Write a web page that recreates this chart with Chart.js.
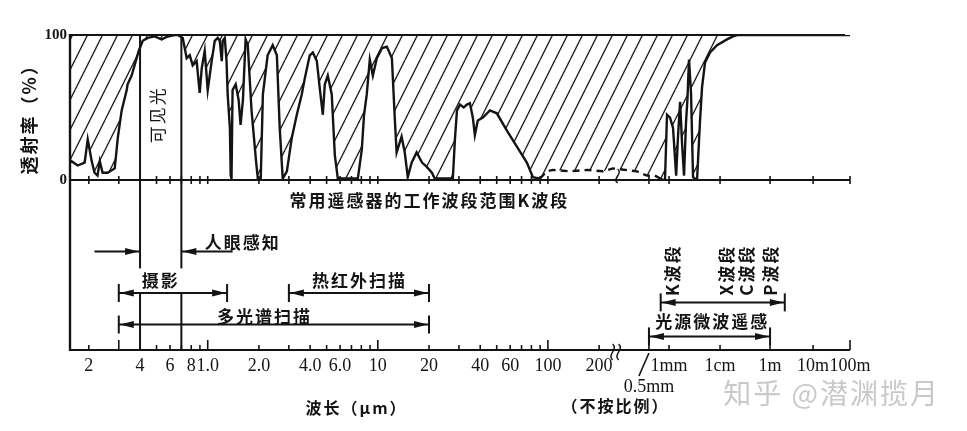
<!DOCTYPE html>
<html>
<head>
<meta charset="utf-8">
<script src="https://cdn.jsdelivr.net/npm/chart.js@4.4.1/dist/chart.umd.min.js"></script>
<style>
html,body{margin:0;background:#fff}
#wrap{width:967px;height:431px}
</style>
</head>
<body>
<div id="wrap"><canvas id="c" width="967" height="431"></canvas></div>
<script>
// transmission curve, wavelength in um
var waveUm = [0.155,0.158,0.172,0.189,0.197,0.208,0.216,0.225,0.232,0.241,0.258,0.284,0.296,0.312,0.334,0.338,0.357,0.382,0.393,
  0.415,0.444,0.488,0.536,0.582,0.64,0.667,0.713,0.752,0.784,0.816,0.861,0.897,0.922,0.96,1.0,1.055,1.10,1.145,1.177,1.21,1.225,
  1.26,1.29,1.31,1.35,1.365,1.38,1.40,1.46,1.52,1.56,1.61,1.67,1.72,1.81,1.92,1.97,2.05,2.11,2.25,2.41,2.55,2.65,2.76,2.92,
  3.12,3.34,3.57,3.72,3.98,4.15,4.38,4.56,4.75,4.88,5.08,5.36,5.59,5.82,7.63,8.05,8.3,8.61,8.97,9.35,9.87,10.6,11.3,12.1,12.6,
  12.9,13.8,14.4,15.0,15.8,16.9,18.2,19.4,20.8,21.6,27.6,28.4,29.2,30.4,32.0,33.4,34.8,36.2,37.2,38.7,41.5,45.6,50.1,57.4,65.7,
  75.2,81.6,89.7,98.6,107,135,170,211,241,361,473,615,813,870,933,1046,1198,1380,1500,1650,1800,1970,2155,2300,2380,2466,2700,
  2955,3541,4055,4438,5081,6365,8737,1.9e4,3.3e4,4.8e4,1e8];
var transPct = [12,13,10,12,28,13,5,3,13,5,5,8,29,48,62,66,72,84,89,
  96,98,99,97,99,100,100,98,84,86,79,82,60,77,89,62,82,96,98,96,82,96,
  98,82,59,36,3,1,62,66,55,38,55,97,93,48,14,1,1,59,86,93,86,36,1,6,
  29,45,59,70,86,88,82,63,45,66,72,59,17,1,1,21,45,59,83,72,84,91,92,84,41,
  19,30,19,2,12,19,12,9,5,1,1,28,48,52,50,52,53,43,31,41,43,48,46,34,23,
  12,2,1,6,7,6,7,6,8,6,3,3,0,0,45,43,36,3,30,54,25,3,40,56,70,83,60,
  2,0,41,64,81,88,93,97,99,100,100];
var dashFrom = 89, dashTo = 620;   // poorly measured stretch, drawn dashed

// axis ticks (um) and their labels
var tickUm = [0.2,0.3,0.4,0.5,0.6,0.7,0.8,0.9,1,2,3,4,5,6,7,8,9,10,20,30,40,50,60,70,80,90,100,200,500,1000,1e4,1e6,1e7,1e8];
var tickText = ['2','','4','','6','','8','','1.0','2.0','','4.0','','6.0','','','','10','20','','40','','60','','','','100','200',
  ['','0.5mm'],'1mm','1cm','1m','10m','100m'];
var tallTicks = [0.3,1,10,100,1e8];

// axis is log up to the break, then "not to scale"
var breakUm = [250,260,500,1e3,1e4,1e6,1e7,1e8];
var breakAt = [2.398,2.453,2.594,2.712,3.012,3.306,3.559,3.776];

// sensor bands
var bandText = ['摄影','热红外扫描','多光谱扫描','','光源微波遥感'];
var bandFrom = [0.3,3,0.3,750,500];
var bandTo = [1.3,20,20,2.2e6,1e6];
var bandRow = [6.65,6.65,8.5,7.2,9.2];
var bandTextAt = [0.53,7.8,2.16,null,7000];
var bandTextRow = [5.9,5.9,8.05,null,8.35];

var mwText = ['K波段','X波段','C波段','P波段'];
var mwAt = [1150,1.9e4,1.2e5,1e6];

var eyeFrom = [0.216,1.4], eyeTo = [0.4,0.7], eyeRow = 4.2;
var visible = [0.4,0.7];

var ink = '#141414';
var cjk = '"Noto Sans CJK SC"';

function axisPos(um) {
  if (um <= breakUm[0]) return Math.log10(um);
  for (var i = 1; i < breakUm.length; i++) {
    if (um <= breakUm[i] || i == breakUm.length - 1) {
      var l0 = Math.log10(breakUm[i-1]), l1 = Math.log10(breakUm[i]);
      return breakAt[i-1] + (breakAt[i] - breakAt[i-1]) * (Math.log10(um) - l0) / (l1 - l0);
    }
  }
}

class WaveScale extends Chart.LinearScale {
  determineDataLimits() { this.min = this.options.min; this.max = this.options.max; }
  buildTicks() { return tickUm.map(function(v){ return {value: v}; }); }
  getPixelForValue(v) {
    var u0 = axisPos(this.min), u1 = axisPos(this.max);
    return this.getPixelForDecimal((axisPos(v) - u0) / (u1 - u0));
  }
}
WaveScale.id = 'wave';
WaveScale.defaults = Chart.LinearScale.defaults;
Chart.register(WaveScale);

function hatch() {
  var c = document.createElement('canvas');
  c.width = 15; c.height = 30;
  var g = c.getContext('2d');
  g.strokeStyle = '#1e1e1e'; g.lineWidth = 1.3;
  [-15,0,15].forEach(function(dx){
    g.beginPath(); g.moveTo(dx, 30); g.lineTo(dx + 15, 0); g.stroke();
  });
  return g.createPattern(c, 'repeat');
}

var datasets = [{
  data: waveUm.map(function(w, i){ return {x: w, y: transPct[i]}; }),
  yAxisID: 'yT',
  borderColor: ink,
  borderWidth: 2.4,
  pointRadius: 0,
  tension: 0,
  fill: 'end',
  backgroundColor: hatch(),
  segment: {
    borderDash: function(c){ return (c.p0.parsed.x >= dashFrom && c.p1.parsed.x <= dashTo) ? [7,5] : undefined; }
  }
}];
for (let i = 0; i < bandFrom.length; i++) {
  datasets.push({data: [{x: bandFrom[i], y: bandRow[i]}, {x: bandTo[i], y: bandRow[i]}], yAxisID: 'yB',
    borderColor: ink, borderWidth: 2, pointRadius: 0, fill: false});
}
for (let i = 0; i < eyeFrom.length; i++) {
  datasets.push({data: [{x: eyeFrom[i], y: eyeRow}, {x: eyeTo[i], y: eyeRow}], yAxisID: 'yB',
    borderColor: ink, borderWidth: 2, pointRadius: 0, fill: false});
}

function line(ctx, x1, y1, x2, y2, w) {
  ctx.lineWidth = w || 2;
  ctx.beginPath(); ctx.moveTo(x1, y1); ctx.lineTo(x2, y2); ctx.stroke();
}
function head(ctx, tip, y, dir) {
  ctx.beginPath(); ctx.moveTo(tip, y);
  ctx.lineTo(tip - dir * 14, y - 3.5); ctx.lineTo(tip - dir * 14, y + 3.5);
  ctx.closePath(); ctx.fill();
}
function txt(ctx, s, x, y, font, align, rot) {
  ctx.save();
  ctx.font = font; ctx.textAlign = align || 'center'; ctx.textBaseline = 'middle';
  ctx.translate(x, y);
  if (rot) ctx.rotate(rot);
  ctx.fillText(s, 0, 0);
  ctx.restore();
}
function squiggle(ctx, x, y, h) {
  ctx.lineWidth = 1.5;
  ctx.beginPath(); ctx.moveTo(x, y - h);
  ctx.bezierCurveTo(x + 6, y - h / 3, x - 6, y + h / 3, x, y + h);
  ctx.stroke();
}

var deco = {
  id: 'deco',
  afterDatasetsDraw: function(chart) {
    var ctx = chart.ctx, a = chart.chartArea, x = chart.scales.x, yT = chart.scales.yT, yB = chart.scales.yB;
    var y0 = yT.getPixelForValue(0), yTop = yT.getPixelForValue(100);
    ctx.save();
    ctx.strokeStyle = ink; ctx.fillStyle = ink;
    try { ctx.letterSpacing = '2px'; } catch (e) {}

    // frame
    line(ctx, a.left, yTop, a.right - 5, yTop, 2);
    line(ctx, a.left, y0, a.right, y0, 2);
    line(ctx, a.left, a.bottom, a.right, a.bottom, 2);
    line(ctx, a.left, yTop - 1, a.left, a.bottom + 1, 2.4);

    // ticks
    tickUm.forEach(function(v){
      var px = x.getPixelForValue(v);
      var h = tallTicks.indexOf(v) >= 0 ? 10 : (v == 500 ? 16 : 5);
      line(ctx, px, a.bottom, px, a.bottom - h, 1.6);
      line(ctx, px, y0 - 4, px, y0 + 4, 1.6);
    });

    // visible band limits
    visible.forEach(function(v){
      var px = x.getPixelForValue(v);
      line(ctx, px, yTop, px, yB.getPixelForValue(5.2), 2);
      line(ctx, px, yB.getPixelForValue(6.65), px, a.bottom, 2);
    });
    txt(ctx, '可见光', x.getPixelForValue(0.508), yT.getPixelForValue(45), '17px ' + cjk, 'center', -Math.PI / 2);

    // y title
    txt(ctx, '透射率（%）', 29, yT.getPixelForValue(45), 'bold 18px ' + cjk, 'center', -Math.PI / 2);

    // break marks
    var bx = x.getPixelForValue(250);
    squiggle(ctx, bx - 3, a.bottom + 2, 8);
    squiggle(ctx, bx + 3, a.bottom + 2, 8);
    squiggle(ctx, bx + 2, y0 - 4, 7);

    // bands
    for (var i = 0; i < bandFrom.length; i++) {
      var xa = x.getPixelForValue(bandFrom[i]), xb = x.getPixelForValue(bandTo[i]), yy = yB.getPixelForValue(bandRow[i]);
      line(ctx, xa, yy - 9, xa, yy + 9, 2);
      line(ctx, xb, yy - 9, xb, yy + 9, 2);
      head(ctx, xa + 1, yy, -1);
      head(ctx, xb - 1, yy, 1);
      if (bandText[i]) txt(ctx, bandText[i], x.getPixelForValue(bandTextAt[i]), yB.getPixelForValue(bandTextRow[i]), 'bold 17px ' + cjk);
    }
    for (var j = 0; j < eyeFrom.length; j++) {
      var f = x.getPixelForValue(eyeFrom[j]), t = x.getPixelForValue(eyeTo[j]);
      head(ctx, t + (t > f ? -1 : 1), yB.getPixelForValue(eyeRow), t > f ? 1 : -1);
    }
    txt(ctx, '人眼感知', x.getPixelForValue(0.96), yB.getPixelForValue(3.65), 'bold 17px ' + cjk, 'left');
    txt(ctx, '常用遥感器的工作波段范围K波段', x.getPixelForValue(3.03), yB.getPixelForValue(1.2), 'bold 17px ' + cjk, 'left');
    mwText.forEach(function(s, k){
      txt(ctx, s, x.getPixelForValue(mwAt[k]), yB.getPixelForValue(5.3), 'bold 17px ' + cjk, 'center', -Math.PI / 2);
    });

    // under the axis
    var p5 = x.getPixelForValue(500);
    line(ctx, p5, a.bottom + 3, p5 - 10, a.bottom + 26, 1.6);
    txt(ctx, '波长（μm）', x.getPixelForValue(7.5), a.bottom + 58, 'bold 16px ' + cjk);
    txt(ctx, '（不按比例）', bx, a.bottom + 56, 'bold 16px ' + cjk);
    ctx.fillStyle = '#c9c9c9';
    txt(ctx, '知乎 @潜渊揽月', 940, a.bottom + 43, '28px ' + cjk, 'right');
    ctx.restore();
  }
};

new Chart(document.getElementById('c'), {
  type: 'line',
  data: {datasets: datasets},
  plugins: [deco],
  options: {
    responsive: false,
    animation: false,
    events: [],
    layout: {padding: {left: 0, right: 117, top: 35, bottom: 0}},
    plugins: {legend: {display: false}, tooltip: {enabled: false}},
    scales: {
      x: {
        type: 'wave', position: 'bottom', min: 0.155, max: 1e8,
        grid: {display: false, drawTicks: false},
        border: {display: false},
        ticks: {autoSkip: false, maxRotation: 0, minRotation: 0, padding: 5, color: ink,
          font: {family: '"Liberation Serif"', size: 18},
          callback: function(v, i){ return tickText[i]; }},
        afterFit: function(s){ s.height = 81; }
      },
      // stacked left axes: the one declared last ends up on top
      yB: {
        type: 'linear', position: 'left', stack: 'v', stackWeight: 170, min: 0, max: 10, reverse: true,
        grid: {display: false, drawTicks: false},
        border: {display: false},
        ticks: {display: false},
        afterFit: function(s){ s.width = 70; }
      },
      yT: {
        type: 'linear', position: 'left', stack: 'v', stackWeight: 145, min: 0, max: 100,
        afterBuildTicks: function(s){ s.ticks = [{value: 0}, {value: 100}]; },
        grid: {display: false, drawTicks: false},
        border: {display: false},
        ticks: {padding: 3, color: ink, font: {family: '"Liberation Serif"', size: 15, weight: 'bold'}},
        afterFit: function(s){ s.width = 70; }
      }
    }
  }
});
</script>
</body>
</html>
